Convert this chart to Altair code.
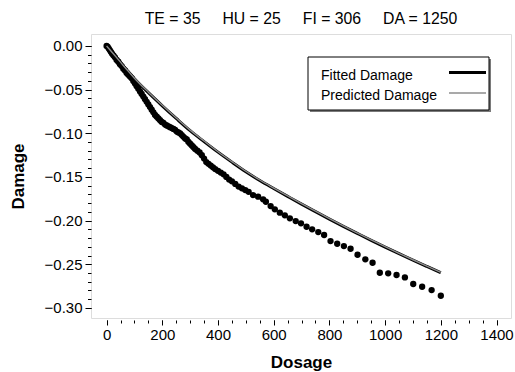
import altair as alt
import pandas as pd

# ---- observed damage points (dots) ----
dose_obs = [0, 4, 8, 12, 16, 20, 25, 30, 36, 42, 48, 54, 60, 66, 72, 78, 84, 90, 96,
            102, 108, 114, 120, 126, 132, 138, 144, 150, 156, 162, 168, 174, 180, 186,
            192, 198, 204, 210, 216, 222, 228, 234, 240, 246, 252, 258, 264, 270, 276,
            282, 288, 294, 300, 306, 312, 318, 326, 334, 342, 350, 358, 366, 374, 382,
            390, 400, 410, 420, 430, 440, 450, 462, 474, 486, 498, 510,
            526, 544, 562, 572, 589, 604, 622, 640, 658, 679, 698, 718, 738, 760, 781,
            804, 828, 852, 876, 901, 929, 955, 981, 1011, 1041, 1071, 1101, 1133, 1167, 1200]
dmg_obs = [0.000, -0.001, -0.003, -0.005, -0.007, -0.009, -0.011, -0.013, -0.016, -0.018,
           -0.021, -0.023, -0.026, -0.028, -0.031, -0.033, -0.035, -0.037, -0.040,
           -0.043, -0.046, -0.049, -0.052, -0.055, -0.058, -0.061, -0.064, -0.067, -0.070,
           -0.073, -0.076, -0.079, -0.081, -0.083, -0.085, -0.087, -0.088, -0.090, -0.091,
           -0.092, -0.093, -0.094, -0.095, -0.096, -0.098, -0.099, -0.100, -0.102, -0.104,
           -0.106, -0.107, -0.110, -0.112, -0.114, -0.116, -0.118, -0.120, -0.122, -0.125,
           -0.129, -0.133, -0.135, -0.137, -0.139, -0.141, -0.143, -0.145, -0.147, -0.150,
           -0.153, -0.155, -0.158, -0.161, -0.163, -0.165, -0.167,
           -0.1707, -0.1726, -0.1756, -0.1784, -0.1833, -0.1871, -0.1909, -0.1939, -0.1974,
           -0.2005, -0.2031, -0.2070, -0.2100, -0.2131, -0.2165, -0.2234, -0.2265, -0.2291,
           -0.2322, -0.2391, -0.2443, -0.2482, -0.2597, -0.2604, -0.2623, -0.2650, -0.2726,
           -0.2757, -0.2795, -0.2860]

# ---- fitted and predicted curves ----
dose_fit = [0, 25, 50, 75, 100, 150, 200, 250, 300, 350, 400, 450, 500, 550, 600, 650,
            700, 750, 800, 850, 900, 950, 1000, 1050, 1100, 1150, 1200]
dmg_fit = [0.0000, -0.0095, -0.0190, -0.0285, -0.0375, -0.0535, -0.0685, -0.0830, -0.0970,
           -0.1095, -0.1216, -0.1330, -0.1440, -0.1540, -0.1632, -0.1722, -0.1811, -0.1897,
           -0.1982, -0.2065, -0.2146, -0.2226, -0.2303, -0.2379, -0.2453, -0.2525, -0.2596]
dmg_pred = [0.0000, -0.0092, -0.0185, -0.0279, -0.0369, -0.0529, -0.0679, -0.0824, -0.0964,
            -0.1089, -0.1211, -0.1325, -0.1435, -0.1535, -0.1627, -0.1717, -0.1806, -0.1892,
            -0.1977, -0.2060, -0.2141, -0.2221, -0.2298, -0.2374, -0.2448, -0.2520, -0.2591]

x_major = [0, 200, 400, 600, 800, 1000, 1200, 1400]
x_minor = [0, 50, 100, 150, 200, 250, 300, 350, 400, 450, 500, 550, 600, 650, 700, 750,
           800, 850, 900, 950, 1000, 1050, 1100, 1150, 1200, 1250, 1300, 1350, 1400]
y_major = [0.0, -0.05, -0.10, -0.15, -0.20, -0.25, -0.30]
y_minor = [0.0, -0.01, -0.02, -0.03, -0.04, -0.05, -0.06, -0.07, -0.08, -0.09, -0.10,
           -0.11, -0.12, -0.13, -0.14, -0.15, -0.16, -0.17, -0.18, -0.19, -0.20,
           -0.21, -0.22, -0.23, -0.24, -0.25, -0.26, -0.27, -0.28, -0.29, -0.30]

GAP = "\u00a0\u00a0\u00a0\u00a0 "
title_text = "TE = 35" + GAP + "HU = 25" + GAP + "FI = 306" + GAP + "DA = 1250"
legend_labels = ["Fitted Damage", "Predicted Damage"]

FONT = "Liberation Sans"
obs = pd.DataFrame({"dose": dose_obs, "dmg": dmg_obs})
fit = pd.DataFrame({"dose": dose_fit, "fit": dmg_fit, "pred": dmg_pred})

xs = alt.Scale(domain=[-56, 1452], nice=False, zero=False)
ys = alt.Scale(domain=[-0.3115, 0.0137], nice=False, zero=False)

x_axis_major = alt.Axis(values=x_major, title="Dosage", orient="bottom", offset=2,
                        tickSize=5, domain=False, grid=False, labelFontSize=15,
                        labelFont=FONT, labelColor="black", tickColor="black",
                        labelPadding=2, titleFont=FONT, titleFontSize=17,
                        titleFontWeight="bold", titleColor="black", titlePadding=12,
                        format="d")
y_axis_major = alt.Axis(values=y_major, title="Damage", orient="left", tickSize=6,
                        domain=False, grid=False, labelFontSize=15, labelFont=FONT,
                        labelColor="black", tickColor="black", labelPadding=3,
                        titleFont=FONT, titleFontSize=17, titleFontWeight="bold",
                        titleColor="black", titlePadding=17, format=".2f")
x_axis_minor = alt.Axis(values=x_minor, title=None, orient="bottom", offset=2, tickSize=3,
                        labels=False, domain=False, grid=False, tickColor="black")
y_axis_minor = alt.Axis(values=y_minor, title=None, orient="left", tickSize=3.5,
                        labels=False, domain=False, grid=False, tickColor="black")

dots = alt.Chart(obs).mark_circle(size=40, color="black", opacity=1).encode(
    x=alt.X("dose:Q", scale=xs, axis=x_axis_major),
    y=alt.Y("dmg:Q", scale=ys, axis=y_axis_major),
)
fitted = alt.Chart(fit).mark_line(color="black", strokeWidth=3, interpolate="monotone").encode(
    x=alt.X("dose:Q", scale=xs, axis=x_axis_minor),
    y=alt.Y("fit:Q", scale=ys, axis=y_axis_minor),
)
predicted = alt.Chart(fit).mark_line(color="#8c8c8c", strokeWidth=1.4, interpolate="monotone").encode(
    x=alt.X("dose:Q", scale=xs, axis=None),
    y=alt.Y("pred:Q", scale=ys, axis=None),
)

# ---- legend box (drawn in pixel space of the plot) ----
leg_df = pd.DataFrame({"label": legend_labels})
shadow = alt.Chart(leg_df.head(1)).mark_rect(fill="#7a7a7a").encode(
    x=alt.value(219), x2=alt.value(400), y=alt.value(25), y2=alt.value(78))
box = alt.Chart(leg_df.head(1)).mark_rect(fill="white", stroke="black", strokeWidth=1).encode(
    x=alt.value(217), x2=alt.value(398), y=alt.value(23), y2=alt.value(76))
t1 = alt.Chart(leg_df.iloc[[0]]).mark_text(align="left", baseline="alphabetic", font=FONT,
                                            fontSize=14, color="black").encode(
    x=alt.value(230), y=alt.value(45.5), text="label:N")
t2 = alt.Chart(leg_df.iloc[[1]]).mark_text(align="left", baseline="alphabetic", font=FONT,
                                            fontSize=14, color="black").encode(
    x=alt.value(230), y=alt.value(65.5), text="label:N")
l1 = alt.Chart(leg_df.iloc[[0]]).mark_rule(color="black", strokeWidth=3).encode(
    x=alt.value(358), x2=alt.value(395), y=alt.value(38.5))
l2 = alt.Chart(leg_df.iloc[[1]]).mark_rule(color="#8c8c8c", strokeWidth=1.4).encode(
    x=alt.value(358), x2=alt.value(395), y=alt.value(59))

chart = alt.layer(dots, fitted, predicted, shadow, box, t1, t2, l1, l2).resolve_axis(
    x="independent", y="independent"
).properties(
    width=420, height=284,
    title=alt.TitleParams(title_text, font=FONT, fontSize=15.8, fontWeight="normal",
                          color="black", anchor="middle", offset=6),
    autosize=alt.AutoSizeParams(type="none"),
    padding={"left": 91, "top": 34, "right": 4, "bottom": 54},
).configure_view(stroke="black", strokeWidth=1.2).configure(background="white")

chart.save("out.html", embed_options={"renderer": "svg", "actions": False})
